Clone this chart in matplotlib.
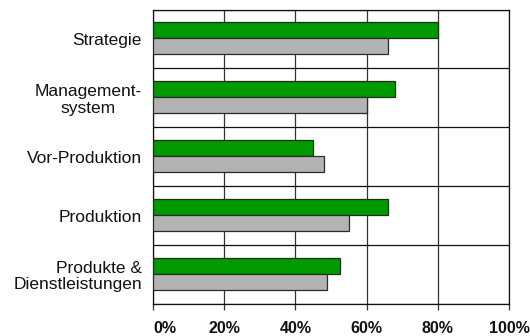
import numpy as np
import matplotlib
matplotlib.use("Agg")
import matplotlib.pyplot as plt

plt.rcParams['font.family'] = ['Liberation Sans', 'DejaVu Sans']

categories = ["Strategie", "Management-\nsystem", "Vor-Produktion", "Produktion", "Produkte &\nDienstleistungen"]
green_vals = [80, 68, 45, 66, 52.5]
gray_vals = [66, 60, 48, 55, 49]
tick_vals = [0, 20, 40, 60, 80, 100]
tick_labels = ["0%", "20%", "40%", "60%", "80%", "100%"]

fig = plt.figure(figsize=(5.30, 3.36), dpi=100)
ax = fig.add_axes([0.2887, 0.0952, 0.6717, 0.8765])

y = np.arange(len(categories))
h = 0.27
ax.barh(y - 0.145, green_vals, height=h, color="#009900", edgecolor="#1e2e1e", linewidth=0.9, zorder=3)
ax.barh(y + 0.125, gray_vals, height=h, color="#b3b3b3", edgecolor="#2a2a2a", linewidth=0.9, zorder=3)

ax.set_xlim(0, 100)
ax.set_ylim(len(categories) - 0.5, -0.5)

# category separators
ax.set_yticks(np.arange(len(categories) + 1) - 0.5, minor=True)
ax.grid(True, which="minor", axis="y", color="#111111", linewidth=0.9, zorder=1)
ax.grid(True, which="major", axis="x", color="#333333", linewidth=0.9, zorder=1)

ax.set_yticks(y)
ax.set_yticklabels(categories, fontsize=12.5, color="#111111", linespacing=1.1)
for lab in ax.get_yticklabels():
    lab.set_multialignment("center")
ax.get_yticklabels()[-1].set_multialignment("right")
ax.tick_params(axis="y", which="both", length=0, pad=8)

ax.set_xticks(tick_vals)
ax.set_xticklabels(tick_labels, fontsize=11.5, fontweight="bold", color="#111111")
ax.get_xticklabels()[0].set_horizontalalignment("left")
ax.tick_params(axis="x", direction="out", length=4.5, width=0.9, color="#333333", pad=7.5)

for s in ax.spines.values():
    s.set_color("#111111")
    s.set_linewidth(0.9)

fig.savefig("out.png", dpi=100)
